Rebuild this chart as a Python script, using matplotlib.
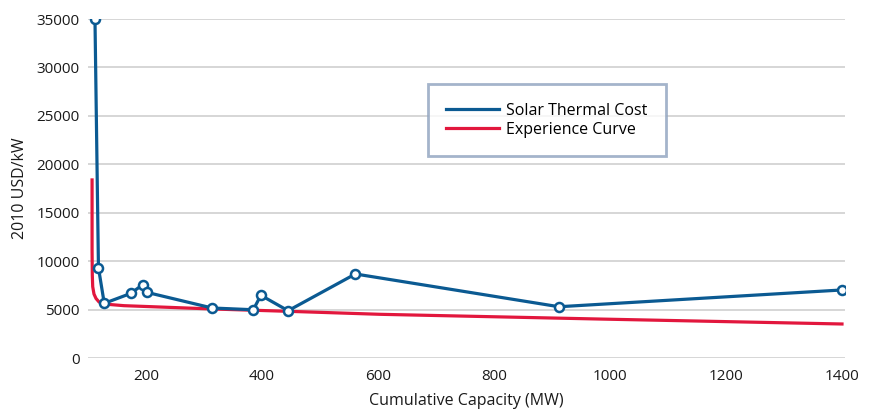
import matplotlib
matplotlib.use("Agg")
import matplotlib.pyplot as plt

plt.rcParams['font.family'] = ['Open Sans', 'DejaVu Sans']

# Solar thermal cost observations (cumulative MW, 2010 USD/kW)
capacity = [112, 118, 128, 174, 194, 201, 314, 385, 398, 445, 561, 912, 1400]
cost = [35000, 9350, 5670, 6700, 7590, 6810, 5190, 5010, 6500, 4910, 8700, 5320, 7050]

# experience curve
exp_capacity = [107, 107, 107.4, 108.1, 110.3, 113.8, 119, 127.6, 162, 207, 314, 465, 603, 983, 1400]
exp_cost = [18400, 11180, 8590, 7390, 6630, 6170, 5810, 5600, 5430, 5330, 5090, 4810, 4540, 4050, 3540]

blue = '#0b5a92'
red = '#e2173d'

fig = plt.figure(figsize=(8.74, 4.18), dpi=100)
ax = fig.add_axes([0.1007, 0.1428, 0.866, 0.8117])

ax.plot(exp_capacity, exp_cost, color=red, lw=2.3, label='Experience Curve', zorder=3)
ax.plot(capacity, cost, color=blue, lw=2.3, marker='o', ms=6.5, mfc='white',
        mec=blue, mew=1.8, label='Solar Thermal Cost', zorder=4)

ax.set_xlim(100, 1405)
ax.set_ylim(0, 35000)
ax.set_xticks([200, 400, 600, 800, 1000, 1200, 1400])
ax.set_yticks(range(0, 35001, 5000))
ax.grid(axis='y', color='#d0d0d0', lw=1.2)
ax.set_axisbelow(True)
for s in ax.spines.values():
    s.set_visible(False)
ax.tick_params(length=0, labelsize=11, colors='#1a1a1a', pad=6)
ax.tick_params(axis='x', pad=8)

ax.set_xlabel('Cumulative Capacity (MW)', fontsize=11.5, color='#1a1a1a', labelpad=6)
ax.set_ylabel('2010 USD/kW', fontsize=11.5, color='#1a1a1a', labelpad=6)

handles, labels = ax.get_legend_handles_labels()
leg = ax.legend([handles[1], handles[0]], [labels[1], labels[0]],
                loc='upper left', bbox_to_anchor=(0.449, 0.808), fontsize=11.5,
                frameon=True, fancybox=False, handlelength=3.3, borderpad=1.15,
                labelspacing=0.2, handletextpad=0.45, borderaxespad=0)
leg.get_frame().set_edgecolor('#8ea2be')
leg.get_frame().set_linewidth(2)
for h in leg.get_lines():
    h.set_marker('')
    h.set_linewidth(2.3)

fig.savefig('out.png', dpi=100)
